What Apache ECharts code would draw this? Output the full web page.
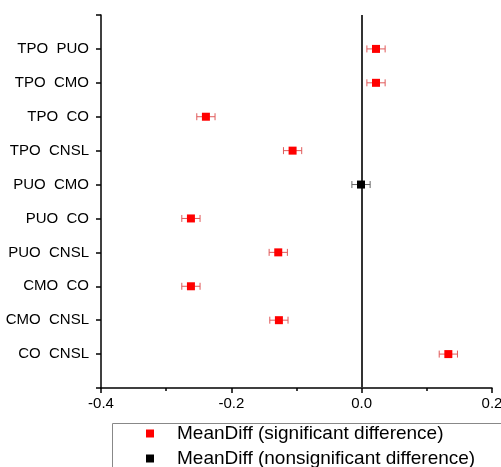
<!DOCTYPE html>
<html><head><meta charset="utf-8">
<script src="https://cdn.jsdelivr.net/npm/echarts@6/dist/echarts.min.js"></script>
<style>html,body{margin:0;padding:0;background:#fff}#c{width:501px;height:467px}</style>
</head><body><div id="c"></div>
<script>
var categories = ['TPO  PUO','TPO  CMO','TPO  CO','TPO  CNSL','PUO  CMO','PUO  CO','PUO  CNSL','CMO  CO','CMO  CNSL','CO  CNSL'];
var meanDiff = [0.022, 0.022, -0.239, -0.106, -0.001, -0.262, -0.128, -0.262, -0.127, 0.133];
var errHalf = [0.014, 0.014, 0.014, 0.014, 0.014, 0.014, 0.014, 0.014, 0.014, 0.014];
var significant = [true, true, true, true, false, true, true, true, true, true];
var seriesNames = ['MeanDiff (significant difference)', 'MeanDiff (nonsignificant difference)'];
var xTicks = { min: -0.4, max: 0.2, interval: 0.2 };

var axisCats = [''].concat(categories).concat(['']);
var sigData = [], nonData = [], errData = [];
categories.forEach(function (c, i) {
  var yi = i + 1;
  if (significant[i]) sigData.push([meanDiff[i], yi]); else nonData.push([meanDiff[i], yi]);
  errData.push([meanDiff[i], yi, meanDiff[i] - errHalf[i], meanDiff[i] + errHalf[i], significant[i] ? 1 : 0]);
});

var legendBase = {
  orient: 'horizontal', left: 141, icon: 'rect', itemWidth: 8, itemHeight: 8,
  textStyle: { color: '#000', fontSize: 19, fontFamily: 'Liberation Sans', padding: [0, 0, 0, 18] }
};

var chart = echarts.init(document.getElementById('c'));
chart.setOption({
  animation: false,
  grid: { left: 101, top: 15, right: 9, bottom: 79, outerBoundsMode: 'none', containLabel: false },
  xAxis: {
    type: 'value', min: xTicks.min, max: xTicks.max, interval: xTicks.interval,
    axisLine: { show: true, onZero: false, lineStyle: { color: '#000', width: 1.5 } },
    axisTick: { show: true, inside: false, length: 5, lineStyle: { color: '#000', width: 1.5 } },
    minorTick: { show: true, splitNumber: 2, length: 3, lineStyle: { color: '#000', width: 1.5 } },
    splitLine: { show: false },
    axisLabel: { color: '#000', fontSize: 15, fontFamily: 'Liberation Sans', margin: 8,
      formatter: function (v) { return v.toFixed(1); } }
  },
  yAxis: {
    type: 'category', data: axisCats, inverse: true, boundaryGap: false,
    axisLine: { show: true, onZero: false, lineStyle: { color: '#000', width: 1.5 } },
    axisTick: { show: true, inside: false, length: 5, lineStyle: { color: '#000', width: 1.5 } },
    splitLine: { show: false },
    axisLabel: { color: '#000', fontSize: 15, fontFamily: 'Liberation Sans', margin: 12 }
  },
  legend: [
    Object.assign({}, legendBase, { top: 419, data: [seriesNames[0]] }),
    Object.assign({}, legendBase, { top: 444, data: [seriesNames[1]] })
  ],
  graphic: [{
    type: 'rect', left: 110, top: 421, shape: { width: 420, height: 60 },
    style: { fill: 'none', stroke: '#888', lineWidth: 1 }, z: 0
  }],
  series: [{
    type: 'custom', name: 'err', silent: true,
    data: errData,
    encode: { x: 0, y: 1 },
    renderItem: function (params, api) {
      var yv = api.value(1);
      var a = api.coord([api.value(2), yv]);
      var b = api.coord([api.value(3), yv]);
      var col = api.value(4) ? '#e05a5a' : '#666';
      var h = 3.5;
      var st = { stroke: col, lineWidth: 1 };
      return { type: 'group', children: [
        { type: 'line', shape: { x1: a[0], y1: a[1], x2: b[0], y2: b[1] }, style: st },
        { type: 'line', shape: { x1: a[0], y1: a[1] - h, x2: a[0], y2: a[1] + h }, style: st },
        { type: 'line', shape: { x1: b[0], y1: b[1] - h, x2: b[0], y2: b[1] + h }, style: st }
      ]};
    }
  }, {
    type: 'scatter', name: seriesNames[0],
    data: sigData, symbol: 'rect', symbolSize: 8,
    itemStyle: { color: '#ff0000', opacity: 1 }, z: 5,
    markLine: {
      silent: true, symbol: 'none', label: { show: false }, z: 3,
      lineStyle: { color: '#333', width: 2, type: 'solid' },
      data: [{ xAxis: 0 }]
    }
  }, {
    type: 'scatter', name: seriesNames[1],
    data: nonData, symbol: 'rect', symbolSize: 8,
    itemStyle: { color: '#000', opacity: 1 }, z: 5
  }]
});
</script></body></html>
